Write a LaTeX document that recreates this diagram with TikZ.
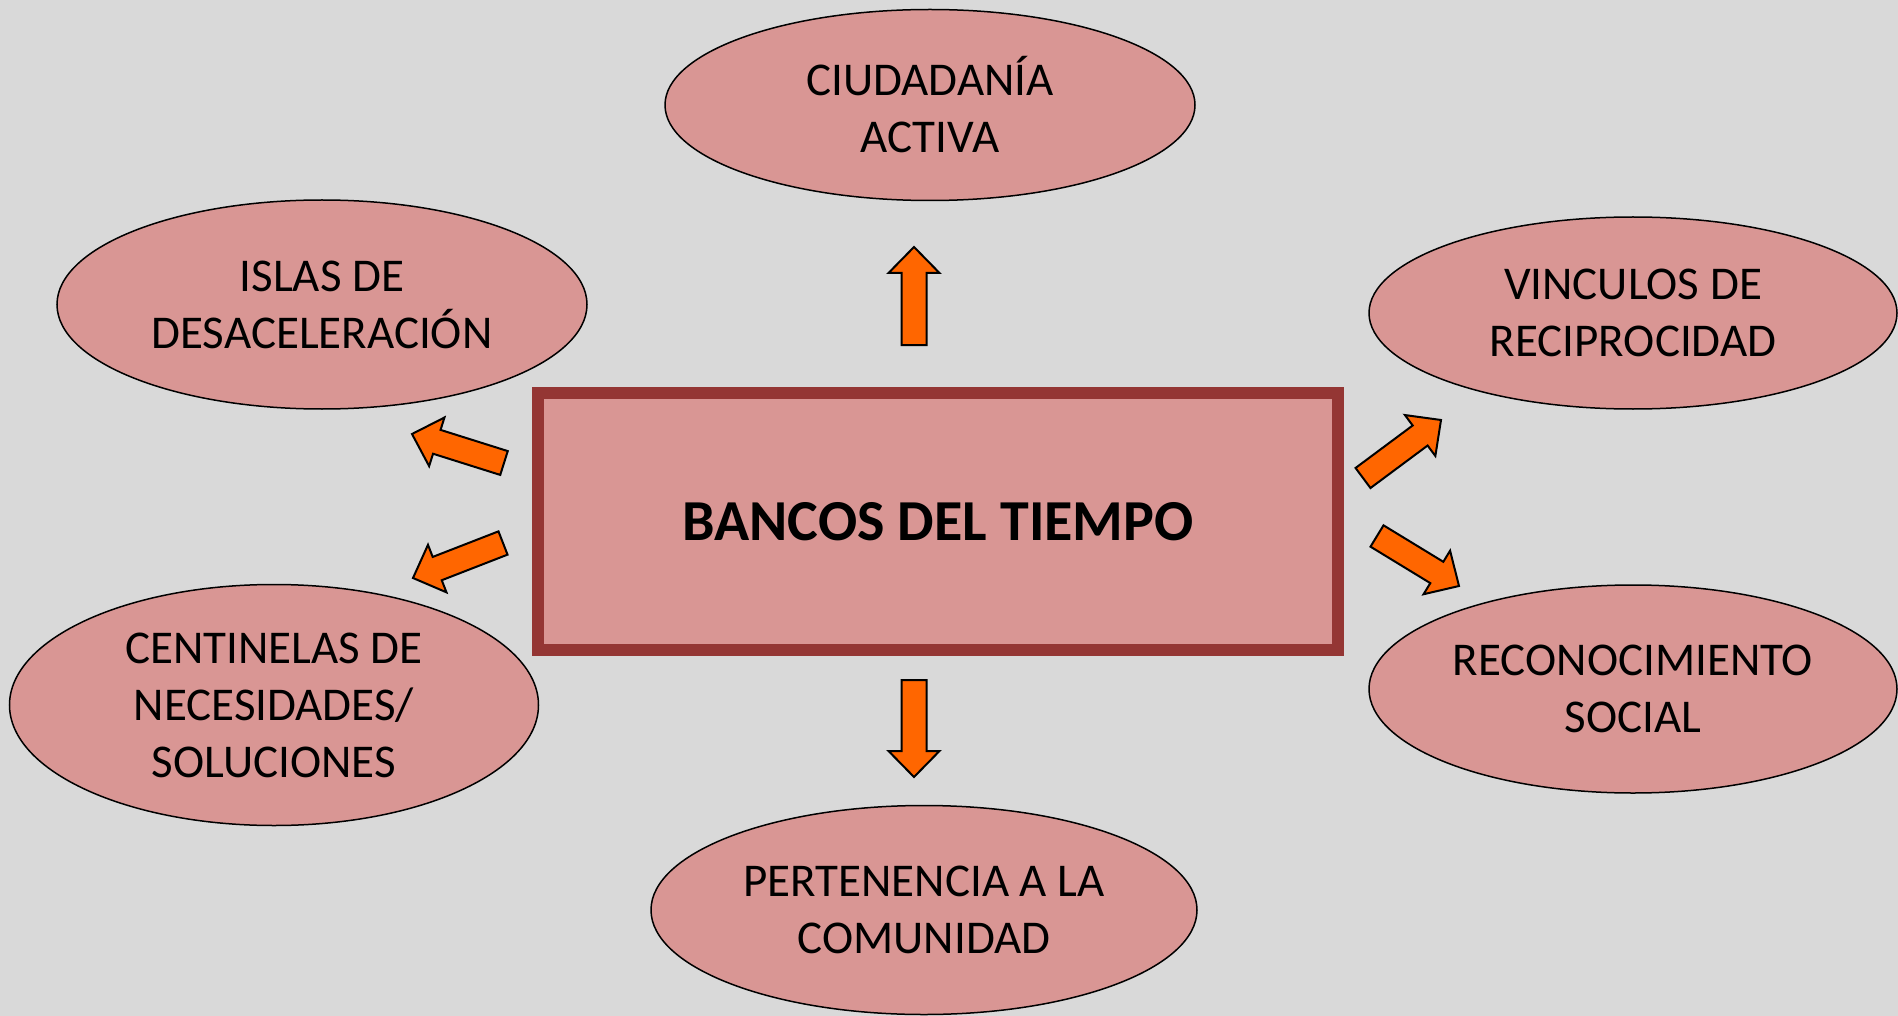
\documentclass[tikz,border=0pt]{standalone}
\usepackage{fontspec}
\setmainfont{Carlito}
\usetikzlibrary{shapes.geometric,calc}
\definecolor{bgc}{HTML}{D9D9D9}
\definecolor{pinkf}{HTML}{D99694}
\definecolor{boxborder}{HTML}{943634}
\definecolor{orangearr}{HTML}{FF6600}
\tikzset{
  bubble/.style={ellipse, draw=black, line width=1.5pt, fill=pinkf, inner sep=0pt,
    align=center, font=\fontsize{47}{57}\selectfont},
  centerbox/.style={rectangle, draw=boxborder, line width=12pt, fill=pinkf, inner sep=0pt,
    minimum width=800pt, minimum height=257pt, font=\fontsize{58}{70}\selectfont\bfseries},
  blockarr/.style={draw=black, line width=2pt, fill=orangearr, line join=miter}
}
\newcommand\myblockarrow[2]{%
  \draw[blockarr]
    ($(#1)!12.5pt!90:(#2)$) --
    ($($(#2)!26pt!(#1)$)!12.5pt!90:(#2)$) --
    ($($(#2)!26pt!(#1)$)!25.5pt!90:(#2)$) --
    (#2) --
    ($($(#2)!26pt!(#1)$)!25.5pt!-90:(#2)$) --
    ($($(#2)!26pt!(#1)$)!12.5pt!-90:(#2)$) --
    ($(#1)!12.5pt!-90:(#2)$) -- cycle;}
\begin{document}
\begin{tikzpicture}[x=1pt,y=-1pt]
\useasboundingbox (0,0) rectangle (1898,1016);
\fill[bgc] (0,0) rectangle (1898,1016);

\node[centerbox] (banco) at (938,521.5) {BANCOS DEL TIEMPO};

\node[bubble, minimum width=530pt, minimum height=191pt] (ciud) at (930,105) {CIUDADANÍA\\ACTIVA};
\node[bubble, minimum width=530pt, minimum height=209pt] (islas) at (322,304.5) {ISLAS DE\\DESACELERACIÓN};
\node[bubble, minimum width=528pt, minimum height=192pt] (vinc) at (1633,313) {VINCULOS DE\\RECIPROCIDAD};
\node[bubble, minimum width=529pt, minimum height=241pt] (cent) at (274,705) {CENTINELAS DE\\NECESIDADES/\\SOLUCIONES};
\node[bubble, minimum width=528pt, minimum height=208pt] (reco) at (1633,689) {RECONOCIMIENTO\\SOCIAL};
\node[bubble, minimum width=546pt, minimum height=209pt] (pert) at (924,910) {PERTENENCIA A LA\\COMUNIDAD};

\coordinate (upT) at (914,345);  \coordinate (upP) at (914,247);
\coordinate (dnT) at (914,680);  \coordinate (dnP) at (914,777);
\coordinate (ulT) at (504,463);  \coordinate (ulP) at (412,434);
\coordinate (llT) at (503,543);  \coordinate (llP) at (413,578);
\coordinate (urT) at (1363,478); \coordinate (urP) at (1441,420);
\coordinate (lrT) at (1377,536); \coordinate (lrP) at (1459,586);

\myblockarrow{upT}{upP}
\myblockarrow{dnT}{dnP}
\myblockarrow{ulT}{ulP}
\myblockarrow{llT}{llP}
\myblockarrow{urT}{urP}
\myblockarrow{lrT}{lrP}
\end{tikzpicture}
\end{document}
